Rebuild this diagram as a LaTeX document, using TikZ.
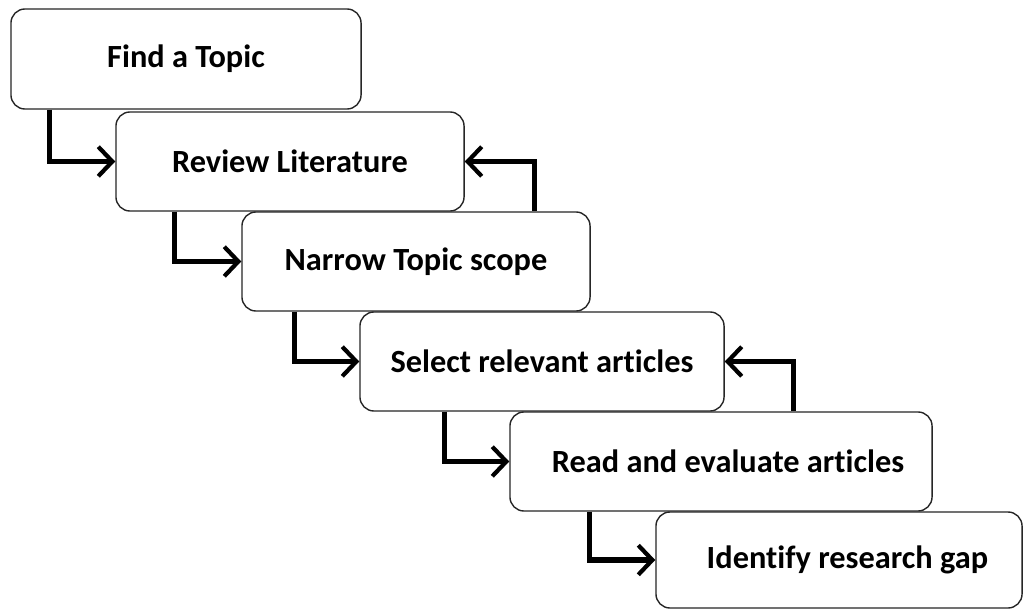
\documentclass[tikz,border=0pt]{standalone}
\usepackage{fontspec}
\setmainfont{Carlito}[Ligatures=NoCommon]
\usetikzlibrary{arrows.meta}
\tikzset{
  stepbox/.style={draw=black!85, line width=1pt, rounded corners=10pt, fill=white,
    inner sep=0pt, font=\fontsize{23}{27}\selectfont\bfseries},
  flow/.style={line width=3.6pt, line join=miter,
    -{Straight Barb[length=10pt, width=21pt, line width=3pt]}},
}
\begin{document}
\begin{tikzpicture}[x=0.025cm, y=-0.025cm]
  \useasboundingbox (0,0) rectangle (1024,610);
  % the six steps, stepping down to the right
  \node[stepbox, minimum width=8.75cm, minimum height=2.5cm]   (b1) at (186,59)    {Find a Topic};
  \node[stepbox, minimum width=8.7cm,  minimum height=2.475cm] (b2) at (290,161.5) {Review Literature};
  \node[stepbox, minimum width=8.7cm,  minimum height=2.475cm] (b3) at (416,261.5) {Narrow Topic scope};
  \node[stepbox, minimum width=9.1cm,  minimum height=2.475cm] (b4) at (542,361.5) {Select relevant articles};
  \node[stepbox, minimum width=10.55cm,minimum height=2.475cm] (b5) at (721,461.5) {\hspace*{10pt}Read and evaluate articles};
  \node[stepbox, minimum width=9.15cm, minimum height=2.4cm]   (b6) at (839,560)   {\hspace*{12pt}Identify research gap};
  % forward links
  \draw[flow] ([xshift=39*0.025cm]b1.south west) |- (b2.west);
  \draw[flow] ([xshift=59*0.025cm]b2.south west) |- (b3.west);
  \draw[flow] ([xshift=53*0.025cm]b3.south west) |- (b4.west);
  \draw[flow] ([xshift=85*0.025cm]b4.south west) |- (b5.west);
  \draw[flow] ([xshift=80*0.025cm]b5.south west) |- (b6.west);
  % feedback links
  \draw[flow] ([xshift=293*0.025cm]b3.north west) |- (b2.east);
  \draw[flow] ([xshift=284*0.025cm]b5.north west) |- (b4.east);
\end{tikzpicture}
\end{document}
